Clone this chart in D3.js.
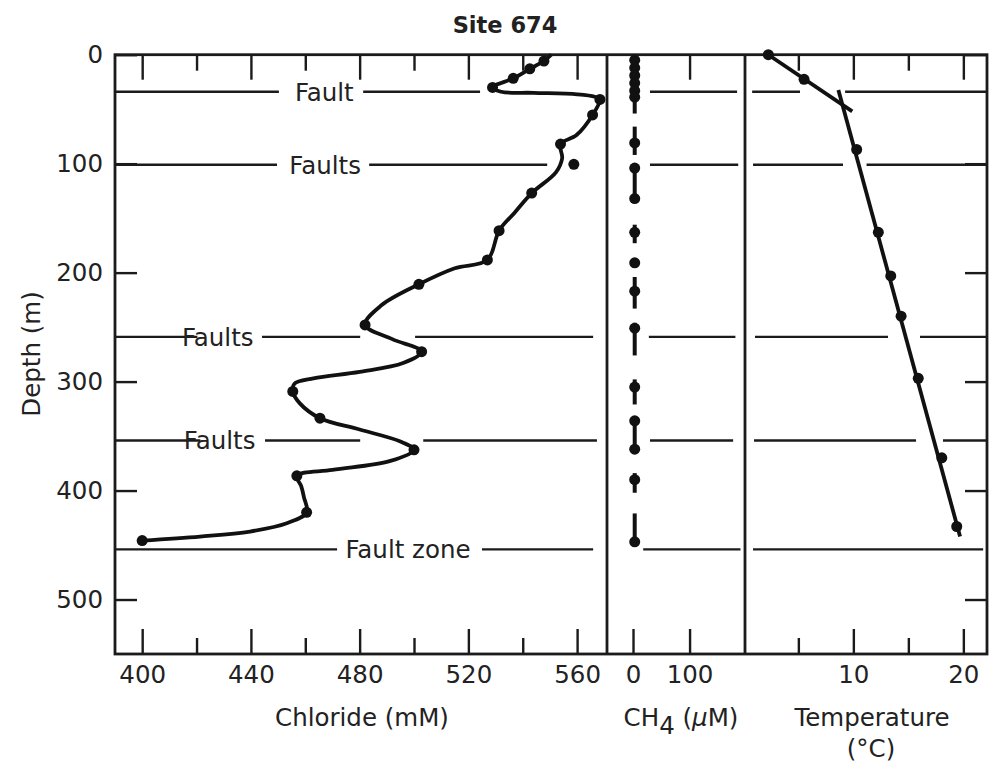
<!DOCTYPE html>
<html lang="en">
<head>
  <meta charset="UTF-8">
  <title>Site 674</title>
  <script src="https://d3js.org/d3.v7.min.js"></script>
  <style>
    body {
      margin: 0;
      background: #fff;
    }
    svg {
      display: block;
    }
    text {
      fill: #222;
      font-family: "DejaVu Sans", sans-serif;
      font-size: 24.5px;
    }
    .title {
      font-weight: bold;
      font-size: 22.5px;
    }
    .axis {
      color: #1b1b1b;
    }
    .axis line {
      stroke-width: 2.4;
    }
    .frame {
      fill: none;
      stroke: #1b1b1b;
      stroke-width: 2.8;
    }
    .fault {
      stroke: #1b1b1b;
      stroke-width: 2.4;
    }
    .curve {
      fill: none;
      stroke: #111;
      stroke-width: 3.8;
      stroke-linejoin: round;
    }
    .bar {
      stroke: #111;
      stroke-width: 4;
    }
    .dot {
      fill: #111;
    }
  </style>
</head>
<body>
  <svg width="990" height="767"></svg>

  <script>
    // ticks
    const depthTicks = [0, 100, 200, 300, 400, 500];
    const clMajor = [400, 440, 480, 520, 560];
    const clMinor = [420, 460, 500, 540];
    const ch4Major = [0, 100];
    const tempMajor = [10, 20];
    const tempMinor = [5, 15];

    // chloride (mM) vs depth (m)
    const clDots = [
      [547.8, 5.8], [542.6, 13], [536.5, 21.7], [528.9, 30], [568.4, 41],
      [565.7, 55.3], [553.9, 82], [558.8, 100.6], [543.3, 127], [531.3, 161.5],
      [527, 188.3], [501.8, 210.7], [482, 248], [502.8, 272.5], [455.4, 309],
      [465.4, 333.6], [500, 362.6], [456.9, 386.5], [460.5, 420], [400, 445.9]
    ];
    // hand-drawn trend through the chloride data
    const clCurve = [
      [550.5, 0], [547.8, 5.8], [542.6, 13], [536.5, 21.7], [528.9, 30],
      [532, 34], [544, 35], [560, 36.4], [566.5, 38.6], [568.4, 41],
      [565.7, 55.3], [559.8, 73.7], [553.9, 82], [554.5, 95], [552.2, 108],
      [543.3, 127], [537, 145], [531.3, 161.5], [527, 188.3], [515, 196],
      [501.8, 210.7], [488, 230], [482, 248], [492, 261], [502.8, 272.5],
      [496, 283], [480, 291], [463, 297], [456, 302], [455.4, 309],
      [458, 320], [465.4, 333.6], [480, 344], [495, 355], [500, 362.6],
      [491, 373], [470, 381], [456.9, 386.5], [458.5, 396], [459.5, 406],
      [460.5, 420], [453.2, 430], [439.7, 437.6], [421.3, 442.2], [400, 445.9]
    ];

    // CH4 (uM) vs depth (m)
    const ch4Dots = [
      [3, 5], [3, 12], [3, 19], [3, 26], [3, 33], [3, 39], [3, 81], [3, 104],
      [3, 132], [3, 163], [3, 191], [3, 217], [3, 251], [3, 305], [3, 336],
      [3, 362], [3, 390], [3, 447]
    ];
    // depth ranges of the CH4 bars
    const ch4Bars = [
      [0, 54], [66, 92], [104, 132], [156, 173], [204, 233], [246, 276],
      [298, 321], [336, 362], [384, 402], [421, 447]
    ];

    // temperature (C) vs depth (m)
    const tempDots = [
      [2.27, 0], [5.52, 22.6], [10.3, 87], [12.27, 163], [13.4, 203],
      [14.34, 240], [15.9, 297], [18.04, 370], [19.4, 433]
    ];
    const tempLines = [
      [[2.27, 0], [9.9, 52]],
      [[8.64, 32.4], [19.7, 442.2]]
    ];

    // fault horizons: label, depth, label position (mM) and line pieces per panel
    const faults = [
      { label: "Fault", depth: 34, at: 467, cl: [[390, 450.3], [481.3, 524.3]], ch4: [[30, 184]], temp: [[0.8, 5.15], [9.25, 22.15]] },
      { label: "Faults", depth: 101, at: 467.3, cl: [[390, 449.6], [483.5, 549]], ch4: [[30, 186]], temp: [[0.88, 9.06], [11.2, 22.15]] },
      { label: "Faults", depth: 259, at: 427.8, cl: [[390, 420.3], [444.1, 480.2], [500.4, 565.9]], ch4: [[28, 181]], temp: [[1.06, 13.15], [16.06, 22.15]] },
      { label: "Faults", depth: 354, at: 428.5, cl: [[390, 421.4], [445.2, 480.2], [503.4, 567.3]], ch4: [[30, 177]], temp: [[0.97, 15.7], [18.15, 22.15]] },
      { label: "Fault zone", depth: 454, at: 497.8, cl: [[390, 471.7], [525, 565.9]], ch4: [[18, 190]], temp: [[0.88, 21.8]] }
    ];

    const svg = d3.select("svg");

    const y = d3.scaleLinear().domain([0, 550]).range([54.7, 654]);
    const xCl = d3.scaleLinear().domain([390, 571]).range([115, 607]);
    const xCh4 = d3.scaleLinear().domain([-46, 198]).range([607, 745]);
    const xT = d3.scaleLinear().domain([0.15, 22.15]).range([745, 987]);

    const yTop = y.range()[0], yBottom = y.range()[1];
    // drop the axis line and d3's own font settings
    const tidy = g => {
      g.select(".domain").remove();
      g.attr("font-size", null).attr("font-family", null);
    };

    // x axes, ticks pointing inward on top and bottom
    function xAxes(x, major, minor) {
      svg.append("g").attr("class", "axis")
        .attr("transform", `translate(0,${yBottom})`)
        .call(d3.axisBottom(x).tickValues(major).tickSize(-25).tickPadding(12)
          .tickFormat(d3.format("d")))
        .call(tidy);
      svg.append("g").attr("class", "axis")
        .attr("transform", `translate(0,${yTop})`)
        .call(d3.axisTop(x).tickValues(major).tickSize(-25).tickFormat(""))
        .call(tidy);
      if (minor.length) {
        svg.append("g").attr("class", "axis")
          .attr("transform", `translate(0,${yBottom})`)
          .call(d3.axisBottom(x).tickValues(minor).tickSize(-16).tickFormat(""))
          .call(tidy);
        svg.append("g").attr("class", "axis")
          .attr("transform", `translate(0,${yTop})`)
          .call(d3.axisTop(x).tickValues(minor).tickSize(-16).tickFormat(""))
          .call(tidy);
      }
    }
    xAxes(xCl, clMajor, clMinor);
    xAxes(xCh4, ch4Major, []);
    xAxes(xT, tempMajor, tempMinor);

    // depth axes
    svg.append("g").attr("class", "axis")
      .attr("transform", `translate(${xCl.range()[0]},0)`)
      .call(d3.axisLeft(y).tickValues(depthTicks).tickSize(-22).tickPadding(12))
      .call(tidy);
    svg.append("g").attr("class", "axis")
      .attr("transform", `translate(${xT.range()[1]},0)`)
      .call(d3.axisRight(y).tickValues(depthTicks).tickSize(-22).tickFormat(""))
      .call(tidy);

    // frame
    svg.append("rect").attr("class", "frame")
      .attr("x", xCl.range()[0]).attr("y", yTop)
      .attr("width", xT.range()[1] - xCl.range()[0]).attr("height", yBottom - yTop);
    [xCh4.range()[0], xT.range()[0]].forEach(px => {
      svg.append("line").attr("class", "frame")
        .attr("x1", px).attr("x2", px).attr("y1", yTop).attr("y2", yBottom);
    });

    // fault lines
    const panels = [["cl", xCl], ["ch4", xCh4], ["temp", xT]];
    faults.forEach(f => {
      panels.forEach(([key, x]) => {
        f[key].forEach(s => {
          svg.append("line").attr("class", "fault")
            .attr("x1", x(s[0])).attr("x2", x(s[1]))
            .attr("y1", y(f.depth)).attr("y2", y(f.depth));
        });
      });
      svg.append("text")
        .attr("x", xCl(f.at)).attr("y", y(f.depth)).attr("dy", "0.36em")
        .attr("text-anchor", "middle")
        .text(f.label);
    });

    // chloride
    svg.append("path").attr("class", "curve")
      .attr("d", d3.line().x(d => xCl(d[0])).y(d => y(d[1]))
        .curve(d3.curveCatmullRom.alpha(0.5))(clCurve));
    svg.selectAll(".cl-dot").data(clDots).enter().append("circle")
      .attr("class", "dot").attr("r", 5.5)
      .attr("cx", d => xCl(d[0])).attr("cy", d => y(d[1]));

    // CH4
    svg.selectAll(".bar").data(ch4Bars).enter().append("line")
      .attr("class", "bar")
      .attr("x1", xCh4(3)).attr("x2", xCh4(3))
      .attr("y1", d => y(d[0])).attr("y2", d => y(d[1]));
    svg.selectAll(".ch4-dot").data(ch4Dots).enter().append("circle")
      .attr("class", "dot").attr("r", 5.5)
      .attr("cx", d => xCh4(d[0])).attr("cy", d => y(d[1]));

    // temperature
    const tLine = d3.line().x(d => xT(d[0])).y(d => y(d[1]));
    tempLines.forEach(l => {
      svg.append("path").attr("class", "curve").attr("d", tLine(l));
    });
    svg.selectAll(".t-dot").data(tempDots).enter().append("circle")
      .attr("class", "dot").attr("r", 5.5)
      .attr("cx", d => xT(d[0])).attr("cy", d => y(d[1]));

    // titles
    svg.append("text").attr("class", "title")
      .attr("x", 505).attr("y", 33).attr("text-anchor", "middle")
      .text("Site 674");

    svg.append("text")
      .attr("transform", "translate(31,354) rotate(-90)")
      .attr("dy", "0.36em").attr("text-anchor", "middle")
      .text("Depth (m)");

    svg.append("text")
      .attr("x", 362).attr("y", 726).attr("text-anchor", "middle")
      .text("Chloride (mM)");

    const ch4Title = svg.append("text")
      .attr("x", 681).attr("y", 726).attr("text-anchor", "middle");
    ch4Title.append("tspan").text("CH");
    ch4Title.append("tspan").attr("dy", 8).text("4");
    ch4Title.append("tspan").attr("dy", -8).text(" (");
    ch4Title.append("tspan").attr("font-style", "italic").text("\u00b5");
    ch4Title.append("tspan").text("M)");

    svg.append("text")
      .attr("x", 872).attr("y", 726).attr("text-anchor", "middle")
      .text("Temperature");
    svg.append("text")
      .attr("x", 871).attr("y", 757).attr("text-anchor", "middle")
      .text("(\u00b0C)");
  </script>
</body>
</html>
